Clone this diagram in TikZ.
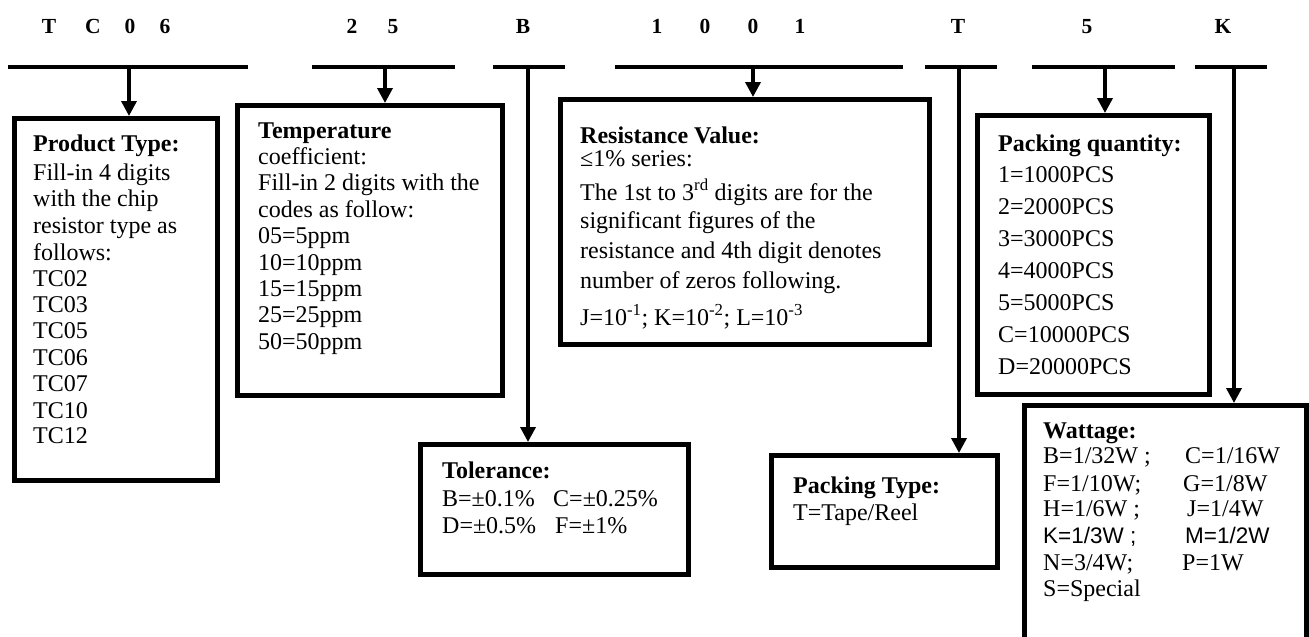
\documentclass[tikz,border=0pt]{standalone}
\usepackage{fontspec}
\setmainfont{Liberation Serif}
\newfontfamily\arialf{Liberation Sans}
\usetikzlibrary{arrows.meta}
\begin{document}
\begin{tikzpicture}[x=1pt,y=-1pt,
  box/.style={draw, line width=4.5pt, inner sep=0pt, anchor=north west},
  bar/.style={line width=4pt},
  arr/.style={line width=3.5pt, -{Triangle[width=15pt,length=15pt]}},
  ln/.style={anchor=base west, inner sep=0pt, font=\fontsize{24}{26}\selectfont},
  hd/.style={anchor=base, inner sep=0pt, font=\fontsize{21.5}{22}\selectfont\bfseries},
]
\useasboundingbox (0,0) rectangle (1309,637);
\clip (0,0) rectangle (1309,637);

% ---- code letters ----
\node[hd] (h1) at (49,33) {T};
\node[hd] (h2) at (93,33) {C};
\node[hd] (h3) at (130,33) {0};
\node[hd] (h4) at (165,33) {6};
\node[hd] (h5) at (352,33) {2};
\node[hd] (h6) at (393,33) {5};
\node[hd] (h7) at (523,33) {B};
\node[hd] (h8) at (657,33) {1};
\node[hd] (h9) at (705,33) {0};
\node[hd] (h10) at (753,33) {0};
\node[hd] (h11) at (800,33) {1};
\node[hd] (h12) at (958,33) {T};
\node[hd] (h13) at (1087,33) {5};
\node[hd] (h14) at (1223,33) {K};

% ---- bars ----
\coordinate (L1a) at (8,67);    \coordinate (L1b) at (248,67);
\coordinate (L2a) at (312,67);  \coordinate (L2b) at (455,67);
\coordinate (L3a) at (493,67);  \coordinate (L3b) at (565,67);
\coordinate (L4a) at (615,67);  \coordinate (L4b) at (903,67);
\coordinate (L5a) at (925,67);  \coordinate (L5b) at (997,67);
\coordinate (L6a) at (1032,67); \coordinate (L6b) at (1175,67);
\coordinate (L7a) at (1195,67); \coordinate (L7b) at (1267,67);
\foreach \i in {1,...,7} \draw[bar] (L\i a) -- (L\i b);

% ---- boxes ----
\node[box, minimum width=203pt, minimum height=362pt] (b1) at (12,116) {};
\node[box, minimum width=265pt, minimum height=290pt] (b2) at (235,103) {};
\node[box, minimum width=369pt, minimum height=245pt] (b3) at (558,97) {};
\node[box, minimum width=232pt, minimum height=279pt] (b4) at (975,113) {};
\node[box, minimum width=282pt, minimum height=260pt] (b5) at (1022,403) {};
\node[box, minimum width=268pt, minimum height=130pt] (b6) at (418,442) {};
\node[box, minimum width=226pt, minimum height=112pt] (b7) at (769,453) {};

% ---- connectors ----
\coordinate (s1) at (129,67);
\coordinate (s2) at (385,67);
\coordinate (s3) at (528,67);
\coordinate (s4) at (753,67);
\coordinate (s5) at (959,67);
\coordinate (s6) at (1105,67);
\coordinate (s7) at (1234,67);
\draw[arr] (s1) -- (s1 |- b1.north);
\draw[arr] (s2) -- (s2 |- b2.north);
\draw[arr] (s3) -- (s3 |- b6.north);
\draw[arr] (s4) -- (s4 |- b3.north);
\draw[arr] (s5) -- (s5 |- b7.north);
\draw[arr] (s6) -- (s6 |- b4.north);
\draw[arr] (s7) -- (s7 |- b5.north);

% ---- box 1 ----
\node[ln] (t1a) at (33,151) {\textbf{Product Type:}};
\node[ln] (t1b) at (33,180) {Fill-in 4 digits};
\node[ln] (t1c) at (33,206) {with the chip};
\node[ln] (t1d) at (33,233) {resistor type as};
\node[ln] (t1e) at (33,260) {follows:};
\node[ln] (t1f) at (33,286) {TC02};
\node[ln] (t1g) at (33,312) {TC03};
\node[ln] (t1h) at (33,338) {TC05};
\node[ln] (t1i) at (33,365) {TC06};
\node[ln] (t1j) at (33,391) {TC07};
\node[ln] (t1k) at (33,418) {TC10};
\node[ln] (t1l) at (33,443) {TC12};

% ---- box 2 ----
\node[ln] (t2a) at (258,138) {\textbf{Temperature}};
\node[ln] (t2b) at (258,164.4) {coefficient:};
\node[ln] (t2c) at (258,190.8) {Fill-in 2 digits with the};
\node[ln] (t2d) at (258,217.2) {codes as follow:};
\node[ln] (t2e) at (258,243.6) {05=5ppm};
\node[ln] (t2f) at (258,270) {10=10ppm};
\node[ln] (t2g) at (258,296.4) {15=15ppm};
\node[ln] (t2h) at (258,322.8) {25=25ppm};
\node[ln] (t2i) at (258,349.2) {50=50ppm};

% ---- box 3 ----
\node[ln] (t3a) at (580,143) {\textbf{Resistance Value:}};
\node[ln] (t3b) at (580,166) {≤1\% series:};
\node[ln] (t3c) at (580,200) {The 1st to 3\textsuperscript{rd} digits are for the};
\node[ln] (t3d) at (580,228) {significant figures of the};
\node[ln] (t3e) at (580,258) {resistance and 4th digit denotes};
\node[ln] (t3f) at (580,288) {number of zeros following.};
\node[ln] (t3g) at (580,325) {J=10\textsuperscript{-1}; K=10\textsuperscript{-2}; L=10\textsuperscript{-3}};

% ---- box 4 ----
\node[ln] (t4a) at (998,151) {\textbf{Packing quantity:}};
\node[ln] (t4b) at (998,182.9) {1=1000PCS};
\node[ln] (t4c) at (998,214.8) {2=2000PCS};
\node[ln] (t4d) at (998,246.7) {3=3000PCS};
\node[ln] (t4e) at (998,278.6) {4=4000PCS};
\node[ln] (t4f) at (998,310.5) {5=5000PCS};
\node[ln] (t4g) at (998,342.4) {C=10000PCS};
\node[ln] (t4h) at (998,374.3) {D=20000PCS};

% ---- box 5 ----
\node[ln] (t5a) at (1043,438) {\textbf{Wattage:}};
\node[ln] (t5b) at (1043,463) {B=1/32W ;};
\node[ln] (t5c) at (1185,463) {C=1/16W};
\node[ln] (t5d) at (1043,491) {F=1/10W;};
\node[ln] (t5e) at (1183,491) {G=1/8W};
\node[ln] (t5f) at (1043,516) {H=1/6W ;};
\node[ln] (t5g) at (1187,516) {J=1/4W};
\node[ln, font=\arialf\fontsize{22.5}{26}\selectfont] (t5h) at (1043,543) {K=1/3W ;};
\node[ln, font=\arialf\fontsize{22.5}{26}\selectfont] (t5i) at (1185,543) {M=1/2W};
\node[ln] (t5j) at (1043,570) {N=3/4W;};
\node[ln] (t5k) at (1182,570) {P=1W};
\node[ln] (t5l) at (1043,596) {S=Special};

% ---- box 6 ----
\node[ln] (t6a) at (442,478) {\textbf{Tolerance:}};
\node[ln] (t6b) at (442,506) {B=±0.1\%};
\node[ln] (t6c) at (553,506) {C=±0.25\%};
\node[ln] (t6d) at (442,533) {D=±0.5\%};
\node[ln] (t6e) at (555,533) {F=±1\%};

% ---- box 7 ----
\node[ln] (t7a) at (793,493) {\textbf{Packing Type:}};
\node[ln] (t7b) at (793,520) {T=Tape/Reel};
\end{tikzpicture}
\end{document}
